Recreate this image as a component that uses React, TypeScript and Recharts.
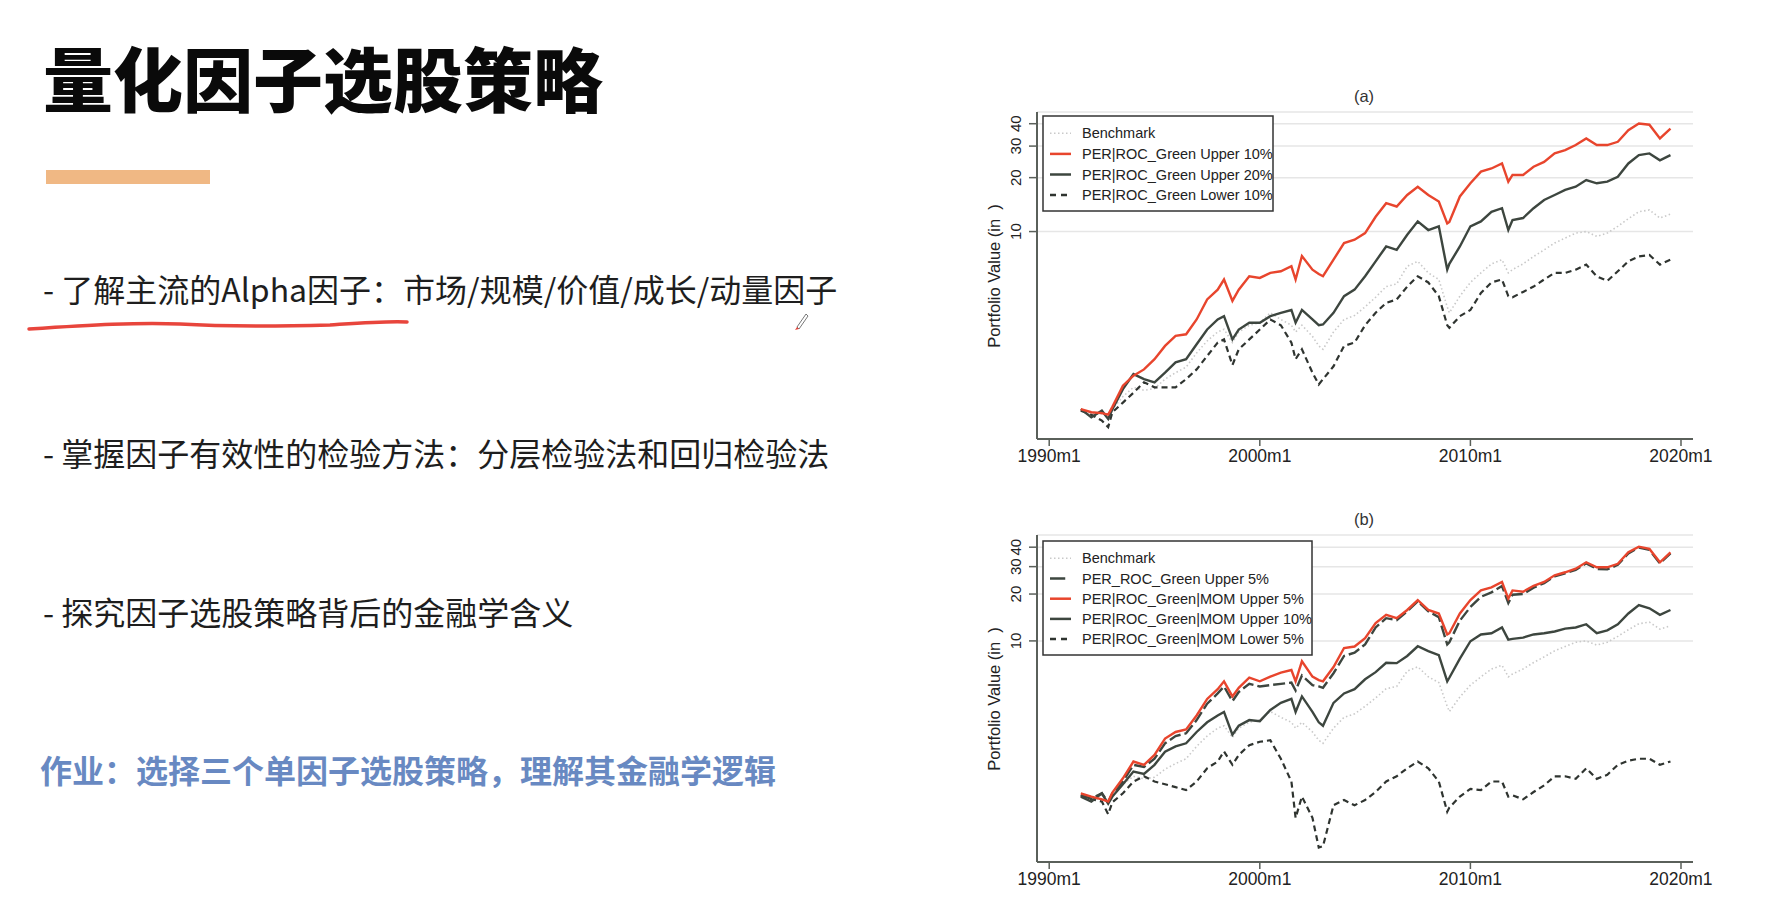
import React from 'react';
import { LineChart, Line, XAxis, YAxis, CartesianGrid } from 'recharts';

// shared time axis (decimal years)
const years = [
  1991.5, 1992, 1992.5, 1992.8, 1993, 1993.5, 1994, 1994.5, 1995, 1995.5,
  1996, 1996.5, 1997, 1997.5, 1998, 1998.3, 1998.7, 1999, 1999.5, 2000,
  2000.5, 2001, 2001.5, 2001.7, 2002, 2002.5, 2002.8, 2003, 2003.5, 2004,
  2004.5, 2005, 2005.5, 2006, 2006.5, 2007, 2007.5, 2008, 2008.5, 2008.9,
  2009, 2009.5, 2010, 2010.5, 2011, 2011.5, 2011.8, 2012, 2012.5, 2013,
  2013.5, 2014, 2014.5, 2015, 2015.5, 2016, 2016.5, 2017, 2017.5, 2018,
  2018.5, 2019, 2019.5,
];

const benchmark = [
  1.0, 0.97, 0.96, 0.93, 1.02, 1.2, 1.35, 1.3, 1.33, 1.5,
  1.63, 1.75, 2.1, 2.45, 2.75, 2.85, 2.4, 2.75, 3.0, 3.1,
  3.52, 3.23, 3.0, 2.75, 3.0, 2.6, 2.3, 2.2, 2.75, 3.23,
  3.4, 3.8, 4.3, 4.93, 5.1, 6.4, 6.82, 5.88, 5.4, 3.8,
  3.52, 4.36, 5.2, 5.88, 6.6, 6.97, 5.88, 6.13, 6.6, 7.26,
  7.9, 8.63, 9.2, 9.8, 10.0, 9.4, 9.8, 10.7, 11.8, 12.9,
  13.2, 11.9, 12.5,
];

// panel (a)
const aUpper10 = [
  1.02, 0.98, 0.97, 0.95, 1.05, 1.38, 1.57, 1.7, 1.94, 2.3,
  2.62, 2.67, 3.23, 4.18, 4.74, 5.4, 4.1, 4.74, 5.63, 5.51,
  5.88, 6.0, 6.4, 5.4, 7.3, 6.13, 5.8, 5.63, 6.97, 8.63,
  9.0, 9.8, 12.1, 14.4, 13.8, 16.0, 17.8, 16.0, 14.7, 11.1,
  11.3, 15.7, 18.6, 21.6, 22.5, 24.0, 19.0, 20.7, 20.7, 23.0,
  24.5, 27.3, 28.5, 30.4, 33.1, 30.4, 30.4, 31.7, 36.8, 40.1,
  39.5, 33.1, 37.5,
];
const aUpper20 = [
  1.02, 0.92, 1.0, 0.9, 1.02, 1.32, 1.6, 1.5, 1.44, 1.63,
  1.86, 1.94, 2.35, 2.84, 3.23, 3.37, 2.5, 2.84, 3.1, 3.1,
  3.37, 3.52, 3.65, 3.1, 3.65, 3.23, 3.0, 3.03, 3.52, 4.36,
  4.74, 5.63, 6.82, 8.26, 7.9, 9.6, 11.4, 10.2, 10.7, 6.13,
  6.6, 8.26, 10.7, 11.4, 12.9, 13.5, 10.2, 11.6, 11.9, 13.5,
  15.0, 16.0, 17.1, 17.8, 19.4, 18.6, 19.0, 20.2, 24.0, 26.7,
  27.3, 25.0, 26.7,
];
const aLower10 = [
  1.0, 0.95, 0.88, 0.81, 0.98, 1.11, 1.26, 1.44, 1.35, 1.35,
  1.35, 1.5, 1.7, 2.02, 2.4, 2.5, 1.8, 2.2, 2.5, 2.84,
  3.23, 3.0, 2.4, 1.94, 2.2, 1.63, 1.4, 1.5, 1.77, 2.3,
  2.4, 3.0, 3.52, 4.0, 4.18, 4.93, 5.63, 5.2, 4.36, 3.0,
  2.9, 3.37, 3.65, 4.54, 5.2, 5.4, 4.36, 4.3, 4.6, 4.93,
  5.4, 5.88, 5.88, 6.13, 6.54, 5.63, 5.3, 6.0, 6.82, 7.26,
  7.4, 6.54, 6.97,
];

// panel (b)
const bUpper5 = [
  1.02, 0.97, 1.05, 0.92, 1.05, 1.25, 1.6, 1.55, 1.75, 2.2,
  2.45, 2.55, 3.1, 3.95, 4.6, 5.1, 4.1, 4.7, 5.3, 5.1,
  5.2, 5.3, 5.4, 4.8, 6.0, 5.2, 5.1, 5.0, 6.2, 8.0,
  8.4, 9.5, 12.2, 14.0, 13.6, 15.5, 18.0, 15.5, 14.2, 9.5,
  9.8, 13.5, 16.5, 19.2, 20.5, 22.5, 17.5, 19.8, 20.0, 22.0,
  23.5, 26.0, 27.2, 28.6, 31.5, 29.0, 28.8, 30.8, 36.5, 39.8,
  38.5, 31.5, 36.5,
];
const bMomUpper5 = [
  1.05, 1.0, 0.96, 0.93, 1.06, 1.31, 1.68, 1.6, 1.85, 2.36,
  2.6, 2.7, 3.32, 4.24, 4.9, 5.5, 4.4, 5.0, 5.8, 5.5,
  5.9, 6.25, 6.5, 5.5, 7.4, 5.9, 5.6, 5.5, 6.8, 9.0,
  9.2, 10.4, 13.0, 14.7, 14.0, 15.8, 18.3, 15.8, 15.0, 11.0,
  11.2, 15.0, 18.3, 21.1, 22.1, 23.9, 18.7, 21.1, 20.7, 22.6,
  23.9, 26.4, 27.6, 29.1, 32.0, 29.7, 29.7, 31.3, 37.1, 40.3,
  39.0, 32.0, 37.1,
];
const bMomUpper10 = [
  1.0, 0.93, 1.05, 0.9, 1.0, 1.2, 1.45, 1.4, 1.6, 1.94,
  2.1, 2.2, 2.6, 3.0, 3.32, 3.5, 2.5, 2.85, 3.1, 3.05,
  3.6, 4.0, 4.24, 3.5, 4.4, 3.5, 3.0, 2.85, 4.0, 4.6,
  4.9, 5.67, 6.3, 7.24, 7.2, 8.0, 9.24, 8.6, 8.1, 5.5,
  5.8, 7.7, 9.95, 11.0, 11.2, 12.2, 10.2, 10.3, 10.5, 11.0,
  11.2, 11.5, 12.0, 12.2, 12.8, 11.2, 11.7, 12.8, 15.0, 17.0,
  16.2, 14.7, 15.8,
];
const bMomLower5 = [
  1.02, 0.96, 0.93, 0.77, 0.92, 1.05, 1.25, 1.35, 1.25, 1.2,
  1.15, 1.1, 1.25, 1.52, 1.68, 1.95, 1.6, 1.85, 2.14, 2.25,
  2.3, 1.75, 1.25, 0.73, 1.0, 0.73, 0.47, 0.48, 0.88, 0.95,
  0.88, 0.95, 1.07, 1.25, 1.35, 1.52, 1.68, 1.52, 1.25, 0.8,
  0.85, 1.0, 1.12, 1.1, 1.25, 1.25, 1.0, 1.02, 0.96, 1.07,
  1.18, 1.35, 1.35, 1.3, 1.52, 1.3, 1.38, 1.6, 1.7, 1.75,
  1.75, 1.6, 1.68,
];

const xTicks = [1990, 2000, 2010, 2020];
const yTicks = [10, 20, 30, 40];

const legendA = [
  { label: 'Benchmark', color: '#c9c9c9', dash: '1.5 2.5', w: 62 },
  { label: 'PER|ROC_Green Upper 10%', color: '#e8452d', dash: undefined, w: 62 },
  { label: 'PER|ROC_Green Upper 20%', color: '#3d463f', dash: undefined, w: 62 },
  { label: 'PER|ROC_Green Lower 10%', color: '#2f3430', dash: '6 5', w: 62 },
];
const legendB = [
  { label: 'Benchmark', color: '#c9c9c9', dash: '1.5 2.5', w: 62 },
  { label: 'PER_ROC_Green Upper 5%', color: '#3d463f', dash: undefined, w: 45 },
  { label: 'PER|ROC_Green|MOM Upper 5%', color: '#e8452d', dash: undefined, w: 62 },
  { label: 'PER|ROC_Green|MOM Upper 10%', color: '#3d463f', dash: undefined, w: 62 },
  { label: 'PER|ROC_Green|MOM Lower 5%', color: '#2f3430', dash: '6 5', w: 62 },
];

const dataA = years.map((year, i) => ({
  year,
  benchmark: benchmark[i],
  upper10: aUpper10[i],
  upper20: aUpper20[i],
  lower10: aLower10[i],
}));

const dataB = years.map((year, i) => ({
  year,
  benchmark: benchmark[i],
  upper5: bUpper5[i],
  momUpper5: bMomUpper5[i],
  momUpper10: bMomUpper10[i],
  momLower5: bMomLower5[i],
}));

const SANS = '"Liberation Sans", Arial, sans-serif';
const CJK = '"Noto Sans CJK SC", "Noto Sans", sans-serif';
const AXIS = '#5a605a';

const RotTick = (props: any) => {
  const { x, y, payload } = props;
  const tx = x - 6;
  return (
    <text x={tx} y={y} transform={`rotate(-90 ${tx} ${y})`} textAnchor="middle"
      fontSize={15} fill="#222" fontFamily={SANS}>
      {payload.value}
    </text>
  );
};

const Legend = ({ items, left, top, width, height, first, step }: any) => (
  <svg style={{ position: 'absolute', left, top }} width={width + 2} height={height + 2}>
    <rect x={1} y={1} width={width} height={height} fill="#fff" stroke="#333" strokeWidth={1.5} />
    {items.map((it: any, i: number) => {
      const cy = first + i * step;
      return (
        <g key={it.label}>
          <line x1={8} x2={8 + (it.w * 21) / 62} y1={cy} y2={cy} stroke={it.color}
            strokeWidth={it.dash === '1.5 2.5' ? 1.5 : 2.5} strokeDasharray={it.dash} />
          <text x={40} y={cy} dominantBaseline="central" fontSize={14.5} fill="#222" fontFamily={SANS}>
            {it.label}
          </text>
        </g>
      );
    })}
  </svg>
);

const Panel = ({ data, top, domain, children }: any) => (
  <div style={{ position: 'absolute', left: 960, top }}>
    <LineChart width={760} height={400} data={data} margin={{ top: 32, right: 27, bottom: 0, left: 0 }}>
      <CartesianGrid vertical={false} stroke="#e6e6e6" strokeWidth={1.5} />
      <XAxis dataKey="year" type="number" domain={[1989.42, 2020.57]} allowDataOverflow
        ticks={xTicks} tickFormatter={(v: number) => `${v}m1`} height={41}
        axisLine={{ stroke: AXIS, strokeWidth: 2 }} tickLine={{ stroke: AXIS, strokeWidth: 1.5 }}
        tickSize={7} tickMargin={4} tick={{ fontSize: 17.5, fill: '#222', fontFamily: SANS }} />
      <YAxis type="number" scale="log" domain={domain} allowDataOverflow ticks={yTicks} interval={0}
        width={77} axisLine={{ stroke: AXIS, strokeWidth: 2 }} tickLine={{ stroke: AXIS, strokeWidth: 1.5 }}
        tickSize={8} tick={<RotTick />} />
      {children}
    </LineChart>
  </div>
);

const sideText = (text: string, top: number) => (
  <div style={{ position: 'absolute', left: 43, top, fontSize: 32, lineHeight: '32px', color: '#1e1e1e',
    fontFamily: CJK, whiteSpace: 'nowrap' }}>
    {text}
  </div>
);

const App: React.FC = () => {
  return (
    <div style={{ position: 'absolute', left: 0, top: 0, width: 1790, height: 924, background: '#fff', overflow: 'hidden' }}>
      <div style={{ position: 'absolute', left: 43, top: 42, fontSize: 70, lineHeight: '70px', fontWeight: 900,
        fontFamily: CJK, color: '#0a0a0a', whiteSpace: 'nowrap' }}>
        量化因子选股策略
      </div>
      <div style={{ position: 'absolute', left: 46, top: 170, width: 164, height: 14, background: '#f0b884' }} />

      {sideText('- 了解主流的Alpha因子：市场/规模/价值/成长/动量因子', 272)}
      {sideText('- 掌握因子有效性的检验方法：分层检验法和回归检验法', 436)}
      {sideText('- 探究因子选股策略背后的金融学含义', 595)}
      <div style={{ position: 'absolute', left: 40, top: 753, fontSize: 32, lineHeight: '32px', fontWeight: 700,
        color: '#6889c2', fontFamily: CJK, whiteSpace: 'nowrap' }}>
        作业：选择三个单因子选股策略，理解其金融学逻辑
      </div>

      {/* hand-drawn underline and pen cursor */}
      <svg style={{ position: 'absolute', left: 0, top: 0 }} width={900} height={400}>
        <path d="M29 329 C 90 325, 140 322, 180 324 C 230 327, 290 326, 330 325 C 360 323, 385 321, 407 322"
          fill="none" stroke="#e8453c" strokeWidth={3.5} strokeLinecap="round" />
        <path d="M797 327 L 806 314 L 808 316 L 799 329 Z" fill="#fff" stroke="#555" strokeWidth={0.8} />
        <path d="M797 327 L 799 329 L 795 330 Z" fill="#e8453c" />
      </svg>

      {/* panel (a) */}
      <div style={{ position: 'absolute', left: 1364, top: 96, transform: 'translate(-50%, -50%)', fontSize: 16.5,
        fontFamily: SANS, color: '#333' }}>(a)</div>
      <Panel data={dataA} top={80} domain={[0.695, 46.5]}>
        <Line dataKey="benchmark" stroke="#c9c9c9" strokeWidth={1.6} strokeDasharray="1.5 2.5" dot={false} isAnimationActive={false} />
        <Line dataKey="lower10" stroke="#2f3430" strokeWidth={2.2} strokeDasharray="6 4" dot={false} isAnimationActive={false} />
        <Line dataKey="upper20" stroke="#3d463f" strokeWidth={2.4} dot={false} isAnimationActive={false} />
        <Line dataKey="upper10" stroke="#e8452d" strokeWidth={2.4} dot={false} isAnimationActive={false} />
      </Panel>
      <div style={{ position: 'absolute', left: 994, top: 276, transform: 'translate(-50%, -50%) rotate(-90deg)',
        fontSize: 16.5, fontFamily: SANS, color: '#222', whiteSpace: 'nowrap' }}>Portfolio Value (in&nbsp;&nbsp;)</div>
      <Legend items={legendA} left={1042} top={115} width={230} height={95} first={18.3} step={20.6} />

      {/* panel (b) */}
      <div style={{ position: 'absolute', left: 1364, top: 519, transform: 'translate(-50%, -50%)', fontSize: 16.5,
        fontFamily: SANS, color: '#333' }}>(b)</div>
      <Panel data={dataB} top={503} domain={[0.38, 47.9]}>
        <Line dataKey="benchmark" stroke="#c9c9c9" strokeWidth={1.6} strokeDasharray="1.5 2.5" dot={false} isAnimationActive={false} />
        <Line dataKey="momLower5" stroke="#2f3430" strokeWidth={2.2} strokeDasharray="6 4" dot={false} isAnimationActive={false} />
        <Line dataKey="momUpper10" stroke="#3d463f" strokeWidth={2.4} dot={false} isAnimationActive={false} />
        <Line dataKey="upper5" stroke="#3d463f" strokeWidth={2.4} strokeDasharray="12 4" dot={false} isAnimationActive={false} />
        <Line dataKey="momUpper5" stroke="#e8452d" strokeWidth={2.4} dot={false} isAnimationActive={false} />
      </Panel>
      <div style={{ position: 'absolute', left: 994, top: 699, transform: 'translate(-50%, -50%) rotate(-90deg)',
        fontSize: 16.5, fontFamily: SANS, color: '#222', whiteSpace: 'nowrap' }}>Portfolio Value (in&nbsp;&nbsp;)</div>
      <Legend items={legendB} left={1042} top={540} width={269} height={114} first={18.3} step={20.2} />
    </div>
  );
};

export default App;
